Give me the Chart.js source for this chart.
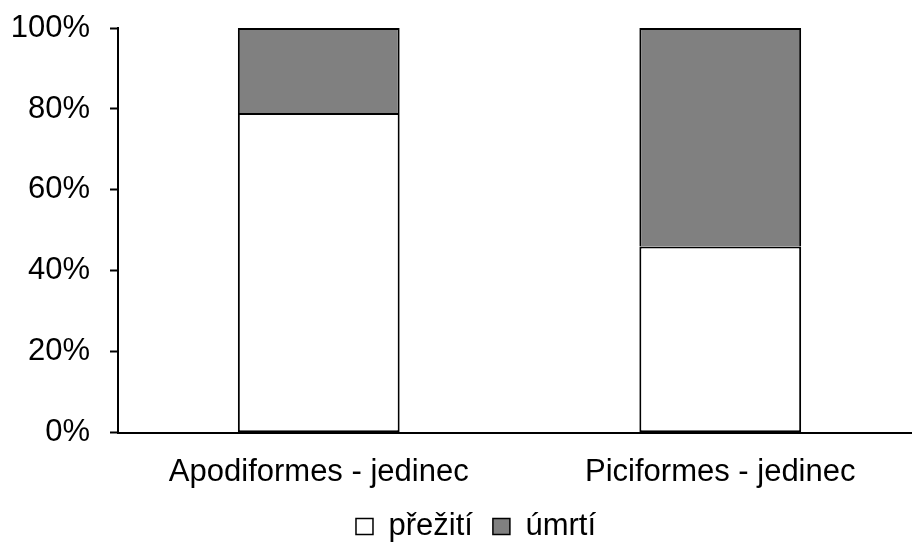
<!DOCTYPE html>
<html>
<head>
<meta charset="utf-8">
<script src="https://cdn.jsdelivr.net/npm/chart.js@4/dist/chart.umd.min.js"></script>
<style>
  html, body { margin: 0; padding: 0; background: #fff; overflow: hidden; }
  #wrap { width: 912px; height: 545px; overflow: hidden; }
</style>
</head>
<body>
<div id="wrap"><canvas id="chart" width="930" height="545"></canvas></div>
<script>
const categories = ['Apodiformes - jedinec', 'Piciformes - jedinec'];
const survived = [79, 46];
const died = [21, 54];
const seriesNames = ['přežití', 'úmrtí'];
const yTicks = [0, 20, 40, 60, 80, 100];

const font = { family: '"Liberation Sans", Arial, sans-serif', size: 31 };

// nudge the legend right and down, like the original,
// and let the category labels overhang the squeezed x axis box
const layoutTweak = {
  id: 'layoutTweak',
  afterLayout: (chart) => {
    const lg = chart.legend;
    lg.left += 10;
    lg.right += 10;
    lg.top += 7;
    lg.bottom += 7;
    chart.scales.x.bottom += 20;
  },
};

const chart = new Chart(document.getElementById('chart'), {
  type: 'bar',
  data: {
    labels: categories,
    datasets: [
      {
        label: seriesNames[0],
        data: survived,
        backgroundColor: '#ffffff',
        borderColor: '#000000',
        borderWidth: 2,
        borderSkipped: false,
      },
      {
        label: seriesNames[1],
        data: died,
        backgroundColor: '#808080',
        borderColor: '#000000',
        borderWidth: 2,
        borderSkipped: 'bottom',
      },
    ],
  },
  plugins: [layoutTweak],
  options: {
    responsive: false,
    animation: false,
    layout: { padding: { top: 28, right: 9, bottom: 0, left: 11 } },
    datasets: { bar: { barPercentage: 0.403, categoryPercentage: 1 } },
    plugins: {
      tooltip: { enabled: false },
      legend: {
        position: 'bottom',
        labels: {
          font,
          color: '#000',
          boxWidth: 17,
          boxHeight: 16,
          padding: 20,
          generateLabels: (c) => c.data.datasets.map((ds, i) => ({
            text: ds.label,
            fillStyle: ds.backgroundColor,
            strokeStyle: '#000',
            lineWidth: 1.5,
            fontColor: '#000',
            datasetIndex: i,
          })),
        },
      },
    },
    scales: {
      x: {
        stacked: true,
        grid: { display: false },
        border: { display: true, color: '#000', width: 2 },
        ticks: { font, color: '#000', padding: 13 },
        afterFit: (axis) => {
          axis.height -= 20;
        },
      },
      y: {
        stacked: true,
        min: 0,
        max: 100,
        afterBuildTicks: (axis) => {
          axis.ticks = yTicks.map((v) => ({ value: v }));
        },
        afterFit: (axis) => {
          axis.width = 107;
          axis.paddingTop = 0;
          axis.paddingBottom = 0;
        },
        grid: {
          drawOnChartArea: false,
          drawTicks: true,
          tickLength: 8,
          tickColor: '#000',
          tickWidth: 2,
        },
        border: { display: true, color: '#000', width: 2 },
        ticks: {
          font,
          color: '#000',
          padding: 20,
          callback: (v) => v + '%',
        },
      },
    },
  },
});
</script>
</body>
</html>
